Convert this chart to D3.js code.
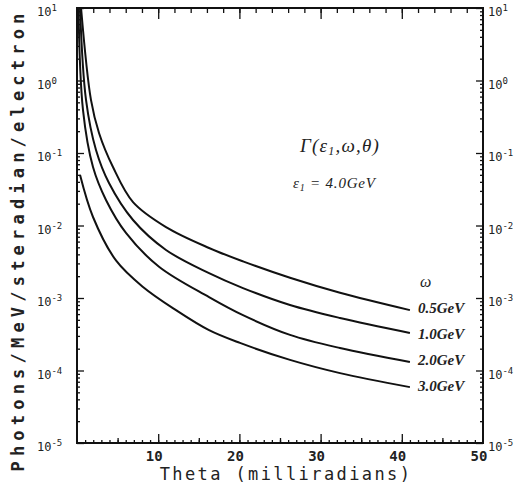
<!DOCTYPE html>
<html>
<head>
<meta charset="utf-8">
<script src="https://cdn.jsdelivr.net/npm/d3@7"></script>
<style>
body { margin: 0; background: #fff; }
svg { display: block; }
</style>
</head>
<body>
<script>
var width = 519;
var height = 488;

// theta (milliradians) and photons/MeV/sr/electron
var seriesNames = ["0.5GeV", "1.0GeV", "2.0GeV", "3.0GeV"];
var theta05 = [0.5, 1.72, 2.71, 4.43, 6.9, 10.96, 16.26, 20.44, 26.23, 32.39, 41.0];
var value05 = [10, 0.54, 0.189, 0.064, 0.021, 0.0095, 0.0049, 0.0032, 0.0019, 0.00118, 0.00068];
var theta10 = [0.37, 1.11, 2.34, 3.94, 6.9, 10.96, 16.26, 20.44, 26.23, 32.39, 41.0];
var value10 = [10, 0.54, 0.11, 0.0385, 0.0119, 0.0046, 0.0022, 0.00137, 0.0008, 0.00053, 0.00033];
var theta20 = [0.18, 0.74, 1.97, 3.57, 6.03, 10.1, 16.26, 20.44, 26.23, 32.39, 41.0];
var value20 = [10, 0.39, 0.064, 0.0225, 0.0079, 0.0027, 0.00103, 0.00058, 0.00031, 0.000204, 0.000131];
var theta30 = [0.37, 1.97, 4.8, 8.13, 12.19, 16.26, 20.07, 26.23, 32.39, 41.0];
var value30 = [0.05, 0.0131, 0.0033, 0.00142, 0.00068, 0.00036, 0.00024, 0.00014, 0.000092, 0.000059];

var xTicks = [10, 20, 30, 40, 50];
var yExponents = [1, 0, -1, -2, -3, -4, -5];

var series = [
    { name: seriesNames[0], t: theta05, v: value05 },
    { name: seriesNames[1], t: theta10, v: value10 },
    { name: seriesNames[2], t: theta20, v: value20 },
    { name: seriesNames[3], t: theta30, v: value30 }
];

var plotL = 77, plotR = 483, plotT = 8, plotB = 443;

var svg = d3.select("body").append("svg").attr("width", width).attr("height", height);

var x = d3.scaleLinear().domain([0, 50]).range([plotL, plotR]);
var y = d3.scaleLog().domain([1e-5, 10]).range([plotB, plotT]);

var frameColor = "#111";
var mono = "'DejaVu Sans Mono', 'Liberation Mono', monospace";
var serif = "'Liberation Serif', 'DejaVu Serif', serif";

// frame
svg.append("rect")
    .attr("x", plotL).attr("y", plotT)
    .attr("width", plotR - plotL).attr("height", plotB - plotT)
    .attr("fill", "none").attr("stroke", frameColor).attr("stroke-width", 2);

function noDomain(g) { g.select(".domain").remove(); }

// bottom ticks (inward)
svg.append("g").attr("transform", "translate(0," + plotB + ")")
    .call(d3.axisBottom(x).tickValues(d3.range(1, 50)).tickSize(-3).tickFormat(""))
    .call(noDomain);
svg.append("g").attr("transform", "translate(0," + plotB + ")")
    .call(d3.axisBottom(x).tickValues([5, 15, 25, 35, 45]).tickSize(-5).tickFormat(""))
    .call(noDomain);
svg.append("g").attr("transform", "translate(0," + plotB + ")")
    .call(d3.axisBottom(x).tickValues(xTicks.slice(0, 4)).tickSize(-9).tickFormat(""))
    .call(noDomain);

// top ticks (inward)
svg.append("g").attr("transform", "translate(0," + plotT + ")")
    .call(d3.axisTop(x).tickValues(d3.range(2, 50, 2)).tickSize(-5).tickFormat(""))
    .call(noDomain);
svg.append("g").attr("transform", "translate(0," + plotT + ")")
    .call(d3.axisTop(x).tickValues(xTicks.slice(0, 4)).tickSize(-11).tickFormat(""))
    .call(noDomain);

// x tick labels
svg.append("g").selectAll("text")
    .data(xTicks)
    .enter().append("text")
    .attr("x", function (d) { return x(d) - 4; })
    .attr("y", 461)
    .attr("text-anchor", "middle")
    .attr("font-family", mono)
    .attr("font-size", 14)
    .attr("font-weight", "bold")
    .attr("fill", "#222")
    .text(function (d) { return d; });

// log ticks on both sides
var logTicks = y.ticks();
var majors = yExponents.map(function (e) { return Math.pow(10, e); });
function isMajor(d) {
    return Math.abs(Math.log10(d) - Math.round(Math.log10(d))) < 1e-6;
}
var minors = logTicks.filter(function (d) { return !isMajor(d); });
svg.append("g").attr("transform", "translate(" + plotL + ",0)")
    .call(d3.axisLeft(y).tickValues(minors).tickSize(-3).tickFormat(""))
    .call(noDomain);
svg.append("g").attr("transform", "translate(" + plotL + ",0)")
    .call(d3.axisLeft(y).tickValues(majors).tickSize(-7).tickFormat(""))
    .call(noDomain);
svg.append("g").attr("transform", "translate(" + plotR + ",0)")
    .call(d3.axisRight(y).tickValues(minors).tickSize(-3).tickFormat(""))
    .call(noDomain);
svg.append("g").attr("transform", "translate(" + plotR + ",0)")
    .call(d3.axisRight(y).tickValues(majors).tickSize(-7).tickFormat(""))
    .call(noDomain);

svg.selectAll(".tick line").attr("stroke", frameColor).attr("stroke-width", 1.3);

// y tick labels, left and right
function powerLabel(g, xPos) {
    var t = g.selectAll("text")
        .data(yExponents)
        .enter().append("text")
        .attr("x", xPos)
        .attr("y", function (d) { return y(Math.pow(10, d)) + 8; })
        .attr("font-family", mono)
        .attr("font-size", 12)
        .attr("fill", "#222");
    t.append("tspan").text("10");
    t.append("tspan")
        .attr("dy", -5)
        .attr("font-size", 9)
        .text(function (d) { return d < 0 ? "-" + (-d) : d; });
}
powerLabel(svg.append("g"), 37);
powerLabel(svg.append("g"), 488);

// curves
var line = d3.line()
    .x(function (d) { return x(d[0]); })
    .y(function (d) { return y(d[1]); })
    .curve(d3.curveCatmullRom.alpha(0.5));

svg.append("g").selectAll("path")
    .data(series)
    .enter().append("path")
    .attr("d", function (s) { return line(s.t.map(function (t, i) { return [t, s.v[i]]; })); })
    .attr("fill", "none")
    .attr("stroke", "#111")
    .attr("stroke-width", 2);

// curve labels
var labelY = [313, 339, 365, 391];
svg.append("text")
    .attr("x", 420).attr("y", 287)
    .attr("font-family", serif).attr("font-style", "italic")
    .attr("font-size", 16).attr("fill", "#222")
    .text("ω");
svg.append("g").selectAll("text")
    .data(series)
    .enter().append("text")
    .attr("x", 418)
    .attr("y", function (d, i) { return labelY[i]; })
    .attr("font-family", serif).attr("font-style", "italic")
    .attr("font-size", 15).attr("font-weight", "bold").attr("fill", "#222")
    .text(function (d) { return d.name; });

// annotation
var ann = svg.append("text")
    .attr("x", 300).attr("y", 152)
    .attr("font-family", serif).attr("font-style", "italic")
    .attr("font-size", 19).attr("letter-spacing", 1.2).attr("fill", "#222");
ann.append("tspan").text("Γ(ε");
ann.append("tspan").attr("font-size", 12).attr("dy", 3).text("1");
ann.append("tspan").attr("dy", -3).text(",ω,θ)");

var ann2 = svg.append("text")
    .attr("x", 293).attr("y", 188)
    .attr("font-family", serif).attr("font-style", "italic")
    .attr("font-size", 15).attr("letter-spacing", 0.8).attr("fill", "#222");
ann2.append("tspan").text("ε");
ann2.append("tspan").attr("font-size", 10).attr("dy", 3).text("1");
ann2.append("tspan").attr("dy", -3).text(" = 4.0GeV");

// axis titles
svg.append("text")
    .attr("x", 286).attr("y", 480)
    .attr("text-anchor", "middle")
    .attr("font-family", mono)
    .attr("font-size", 17)
    .attr("letter-spacing", 2.4)
    .attr("fill", "#222")
    .text("Theta (milliradians)");

svg.append("text")
    .attr("transform", "translate(24,240) rotate(-90)")
    .attr("text-anchor", "middle")
    .attr("font-family", mono)
    .attr("font-size", 17)
    .attr("font-weight", "bold")
    .attr("letter-spacing", 5.2)
    .attr("fill", "#222")
    .text("Photons/MeV/steradian/electron");
</script>
</body>
</html>
